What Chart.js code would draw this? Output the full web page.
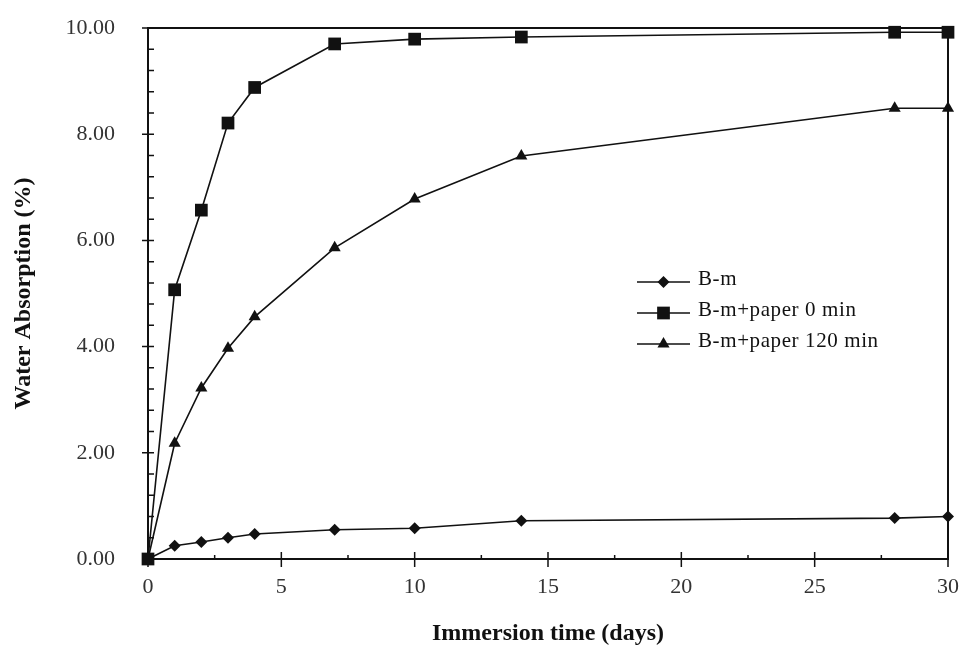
<!DOCTYPE html>
<html><head><meta charset="utf-8">
<script src="https://cdn.jsdelivr.net/npm/chart.js@4/dist/chart.umd.min.js"></script>
<style>html,body{margin:0;padding:0;background:#fff}#wrap{width:964px;height:648px}</style>
</head><body><div id="wrap"><canvas id="c" width="964" height="648"></canvas></div>
<script>
const days = [0, 1, 2, 3, 4, 7, 10, 14, 28, 30];
const seriesNames = ['B-m', 'B-m+paper 0 min', 'B-m+paper 120 min'];
const valuesBm = [0, 0.25, 0.32, 0.40, 0.47, 0.55, 0.58, 0.72, 0.77, 0.80];
const valuesPaper0 = [0, 5.07, 6.57, 8.21, 8.88, 9.70, 9.79, 9.83, 9.92, 9.92];
const valuesPaper120 = [0, 2.18, 3.22, 3.97, 4.56, 5.86, 6.78, 7.59, 8.49, 8.49];
const xTitle = 'Immersion time (days)';
const yTitle = 'Water Absorption (%)';

const pointStyles = ['rectRot', 'rect', 'triangle'];
const pointRadii = [6, 9, 7];
const allValues = [valuesBm, valuesPaper0, valuesPaper120];

const serif = '"Liberation Serif", "Times New Roman", serif';

function drawMarker(ctx, style, r, x, y) {
  ctx.beginPath();
  if (style === 'rectRot') {
    ctx.moveTo(x - r, y); ctx.lineTo(x, y - r); ctx.lineTo(x + r, y); ctx.lineTo(x, y + r);
  } else if (style === 'rect') {
    const s = Math.SQRT1_2 * r;
    ctx.rect(x - s, y - s, 2 * s, 2 * s);
  } else {
    ctx.moveTo(x, y - r);
    ctx.lineTo(x + 0.866 * r, y + 0.5 * r);
    ctx.lineTo(x - 0.866 * r, y + 0.5 * r);
  }
  ctx.closePath();
  ctx.fill();
}

function zeroPad(s) { s.paddingTop = 0; s.paddingBottom = 0; s.paddingLeft = 0; s.paddingRight = 0; }

const framePlugin = {
  id: 'frame',
  beforeDatasetsDraw(chart) {
    const ctx = chart.ctx, ca = chart.chartArea, xs = chart.scales.x, ys = chart.scales.y;
    ctx.save();
    ctx.strokeStyle = '#111';
    ctx.lineWidth = 2;
    ctx.strokeRect(ca.left, ca.top, ca.right - ca.left, ca.bottom - ca.top);
    ctx.lineWidth = 1.5;
    ctx.beginPath();
    for (let i = 0; i <= 25; i++) {
      const py = ys.getPixelForValue(i * 0.4);
      if (i % 5 === 0) { ctx.moveTo(ca.left - 6, py); ctx.lineTo(ca.left + 6, py); }
      else { ctx.moveTo(ca.left, py); ctx.lineTo(ca.left + 6, py); }
    }
    for (let i = 0; i <= 12; i++) {
      const px = xs.getPixelForValue(i * 2.5);
      if (i % 2 === 0) { ctx.moveTo(px, ca.bottom - 7); ctx.lineTo(px, ca.bottom + 8); }
      else { ctx.moveTo(px, ca.bottom - 4); ctx.lineTo(px, ca.bottom); }
    }
    ctx.stroke();
    ctx.restore();
  },
  afterDraw(chart) {
    const ctx = chart.ctx;
    ctx.save();
    const x0 = 637, x1 = 690, tx = 698;
    const rows = [282, 313, 344];
    chart.data.datasets.forEach((ds, i) => {
      const y = rows[i];
      ctx.strokeStyle = '#111'; ctx.lineWidth = 1.5;
      ctx.beginPath(); ctx.moveTo(x0, y); ctx.lineTo(x1, y); ctx.stroke();
      ctx.fillStyle = '#111';
      drawMarker(ctx, ds.pointStyle, ds.pointRadius, (x0 + x1) / 2, y);
      ctx.font = '21px ' + serif;
      ctx.letterSpacing = '0.6px';
      ctx.textBaseline = 'middle';
      ctx.textAlign = 'left';
      ctx.fillText(ds.label, tx, y - 3);
    });
    ctx.restore();
  }
};

const datasets = seriesNames.map((name, i) => ({
  label: name,
  data: days.map((d, j) => ({ x: d, y: allValues[i][j] })),
  borderColor: '#111',
  backgroundColor: '#111',
  borderWidth: 1.6,
  pointStyle: pointStyles[i],
  pointRadius: pointRadii[i],
  pointBackgroundColor: '#111',
  pointBorderColor: '#111',
  pointBorderWidth: 0,
  tension: 0,
  clip: false
}));

new Chart(document.getElementById('c'), {
  type: 'line',
  data: { datasets },
  plugins: [framePlugin],
  options: {
    responsive: false,
    animation: false,
    devicePixelRatio: 1,
    layout: { padding: { left: 0, right: 16, top: 28, bottom: 0 } },
    plugins: { legend: { display: false }, tooltip: { enabled: false } },
    scales: {
      x: {
        type: 'linear', min: 0, max: 30,
        grid: { display: false, drawTicks: false },
        border: { display: false },
        ticks: { stepSize: 5, color: '#333', font: { family: serif, size: 22 }, padding: 15, maxRotation: 0 },
        title: { display: true, text: xTitle, color: '#111', font: { family: serif, size: 24, weight: 'bold' }, padding: { top: 4, bottom: 0 } },
        afterFit(s) { s.height = 89; zeroPad(s); }
      },
      y: {
        min: 0, max: 10,
        grid: { display: false, drawTicks: false },
        border: { display: false },
        ticks: { stepSize: 2, color: '#333', font: { family: serif, size: 22 }, padding: 33, callback: v => Number(v).toFixed(2) },
        title: { display: true, text: yTitle, color: '#111', font: { family: serif, size: 24, weight: 'bold' }, padding: { top: 9, bottom: 0 } },
        afterFit(s) { s.width = 148; zeroPad(s); }
      }
    }
  }
});
</script></body></html>
